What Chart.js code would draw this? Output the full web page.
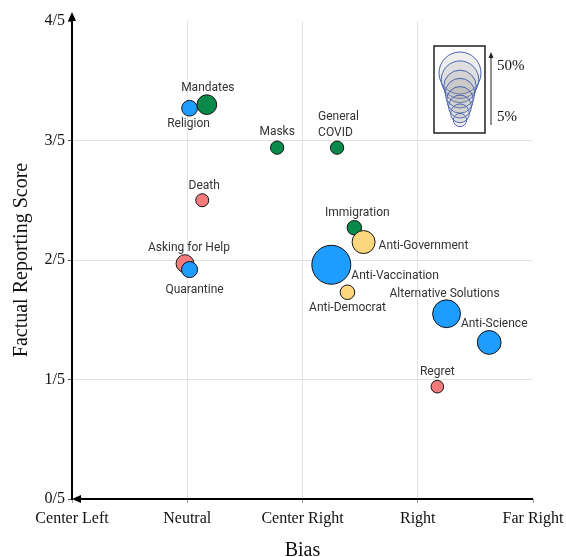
<!DOCTYPE html>
<html>
<head>
<meta charset="utf-8">
<script src="https://cdn.jsdelivr.net/npm/chart.js@4"></script>
<style>
  html, body { margin: 0; padding: 0; background: #fff; }
  #wrap { width: 566px; height: 557px; }
</style>
</head>
<body>
<div id="wrap"><canvas id="bias-chart"></canvas></div>
<script>
// categories on the bias axis, labels for the score axis
const biasLabels = ["Center Left", "Neutral", "Center Right", "Right", "Far Right"];
const scoreLabels = ["0/5", "1/5", "2/5", "3/5", "4/5"];

// one entry per topic
const topics = ["Religion", "Mandates", "Masks", "General COVID", "Death", "Immigration",
  "Anti-Government", "Anti-Vaccination", "Anti-Democrat", "Asking for Help", "Quarantine",
  "Alternative Solutions", "Anti-Science", "Regret"];
const biasValues = [1.02, 1.17, 1.78, 2.30, 1.13, 2.45, 2.53, 2.25, 2.39, 0.98, 1.02, 3.25, 3.62, 3.17];
const scoreValues = [3.27, 3.30, 2.94, 2.94, 2.50, 2.27, 2.15, 1.96, 1.73, 1.97, 1.92, 1.55, 1.31, 0.94];
const shareValues = [7, 11, 5, 5, 4.8, 6, 15, 43, 6, 9, 7.3, 22, 16, 4.5];
const topicGroups = ["belief", "policy", "policy", "policy", "personal", "policy",
  "political", "belief", "political", "personal", "belief", "belief", "belief", "personal"];

// bubble size legend (percent)
const legendShares = [50, 40, 30, 25, 20, 15, 10, 5];

const groupOrder = ["personal", "belief", "policy", "political"]; // later ones drawn on top
const groupColors = {
  personal: "#f47b7b",
  belief: "#1e9cff",
  policy: "#0a8a4a",
  political: "#fdd77e",
};

// 50% -> 21px radius, area proportional to share
const shareToRadius = (share) => 21 * Math.sqrt(share / 50);

const serif = "'Liberation Serif', 'Times New Roman', serif";
const sans = "Roboto, 'Noto Sans', sans-serif";

// where each label sits relative to its bubble
const labelPlacement = {
  "Religion": { dx: -1, dy: 16, align: "center" },
  "Mandates": { dx: 1, dy: -17, align: "center" },
  "Masks": { dx: 0, dy: -16, align: "center" },
  "General COVID": { dx: -19, dy: -31, align: "left", lines: ["General", "COVID"] },
  "Death": { dx: 2, dy: -14, align: "center" },
  "Immigration": { dx: 3, dy: -15, align: "center" },
  "Anti-Government": { dx: 15, dy: 4, align: "left" },
  "Anti-Vaccination": { dx: 20, dy: 11, align: "left" },
  "Anti-Democrat": { dx: 0, dy: 16, align: "center" },
  "Asking for Help": { dx: 4, dy: -16, align: "center" },
  "Quarantine": { dx: 5, dy: 20, align: "center" },
  "Alternative Solutions": { dx: -2, dy: -20, align: "center" },
  "Anti-Science": { dx: 5, dy: -18, align: "center" },
  "Regret": { dx: 0, dy: -15, align: "center" },
};

const datasets = groupOrder.map((group, gi) => {
  const points = [];
  topics.forEach((topic, i) => {
    if (topicGroups[i] === group) {
      points.push({ x: biasValues[i], y: scoreValues[i], r: shareToRadius(shareValues[i]), topic: topic });
    }
  });
  return {
    label: group,
    data: points,
    order: groupOrder.length - gi, // lower order is drawn last
    backgroundColor: groupColors[group],
    borderColor: "#111",
    borderWidth: 1,
    hoverRadius: 0,
  };
});

const pointLabels = {
  id: "pointLabels",
  afterDatasetsDraw(chart) {
    const ctx = chart.ctx;
    ctx.save();
    ctx.font = "12px " + sans;
    ctx.fillStyle = "#333";
    ctx.textBaseline = "middle";
    chart.data.datasets.forEach((ds, di) => {
      const meta = chart.getDatasetMeta(di);
      ds.data.forEach((pt, i) => {
        const el = meta.data[i];
        const p = labelPlacement[pt.topic];
        const lines = p.lines || [pt.topic];
        ctx.textAlign = p.align;
        lines.forEach((line, li) => {
          ctx.fillText(line, el.x + p.dx, el.y + p.dy + li * 16);
        });
      });
    });
    ctx.restore();
  },
};

const axisArrows = {
  id: "axisArrows",
  afterDraw(chart) {
    const ctx = chart.ctx;
    const a = chart.chartArea;
    ctx.save();
    ctx.strokeStyle = "#000";
    ctx.fillStyle = "#000";
    ctx.lineWidth = 2;
    // y axis with arrow on top
    ctx.beginPath();
    ctx.moveTo(a.left, a.bottom + 1);
    ctx.lineTo(a.left, a.top - 4);
    ctx.stroke();
    ctx.beginPath();
    ctx.moveTo(a.left, a.top - 9);
    ctx.lineTo(a.left - 4, a.top);
    ctx.lineTo(a.left + 4, a.top);
    ctx.closePath();
    ctx.fill();
    // x axis with arrow on the left
    ctx.beginPath();
    ctx.moveTo(a.left + 6, a.bottom);
    ctx.lineTo(a.right, a.bottom);
    ctx.stroke();
    ctx.beginPath();
    ctx.moveTo(a.left, a.bottom);
    ctx.lineTo(a.left + 9, a.bottom - 4);
    ctx.lineTo(a.left + 9, a.bottom + 4);
    ctx.closePath();
    ctx.fill();
    ctx.restore();
  },
};

const sizeLegend = {
  id: "sizeLegend",
  afterDraw(chart) {
    const ctx = chart.ctx;
    const a = chart.chartArea;
    const boxLeft = a.right - 99;
    const boxTop = a.top + 25;
    ctx.save();
    ctx.fillStyle = "#fff";
    ctx.fillRect(boxLeft, boxTop, 51, 87);
    const cx = boxLeft + 26;
    const n = legendShares.length;
    legendShares.forEach((share, i) => {
      const r = shareToRadius(share);
      const cy = boxTop + 27 + (i / (n - 1)) * 47;
      ctx.beginPath();
      ctx.arc(cx, cy, r, 0, Math.PI * 2);
      ctx.fillStyle = "rgba(150, 150, 150, 0.16)";
      ctx.fill();
      ctx.strokeStyle = "#4a64b0";
      ctx.lineWidth = 1;
      ctx.stroke();
    });
    ctx.strokeStyle = "#222";
    ctx.lineWidth = 1.5;
    ctx.strokeRect(boxLeft, boxTop, 51, 87);
    // arrow
    const ax = boxLeft + 57;
    ctx.lineWidth = 1;
    ctx.beginPath();
    ctx.moveTo(ax, boxTop + 79);
    ctx.lineTo(ax, boxTop + 10);
    ctx.stroke();
    ctx.beginPath();
    ctx.moveTo(ax, boxTop + 6);
    ctx.lineTo(ax - 2.5, boxTop + 12);
    ctx.lineTo(ax + 2.5, boxTop + 12);
    ctx.closePath();
    ctx.fillStyle = "#222";
    ctx.fill();
    ctx.font = "15px " + serif;
    ctx.fillStyle = "#111";
    ctx.textAlign = "left";
    ctx.textBaseline = "middle";
    ctx.fillText(legendShares[0] + "%", ax + 6, boxTop + 20);
    ctx.fillText(legendShares[n - 1] + "%", ax + 6, boxTop + 71);
    ctx.restore();
  },
};

const hideEnds = (max) => (c) => (c.tick.value === 0 || c.tick.value === max ? "rgba(0,0,0,0)" : "#e2e2e2");

new Chart(document.getElementById("bias-chart"), {
  type: "bubble",
  data: { datasets: datasets },
  options: {
    responsive: true,
    maintainAspectRatio: false,
    animation: false,
    layout: { padding: { top: 21, right: 33, left: 0, bottom: 0 } },
    plugins: {
      legend: { display: false },
      tooltip: { enabled: false },
    },
    scales: {
      x: {
        type: "linear",
        min: 0,
        max: 4,
        border: { display: false },
        grid: { color: hideEnds(4), tickColor: "#999", tickLength: 4, lineWidth: 1 },
        ticks: {
          stepSize: 1,
          padding: 6,
          color: "#111",
          font: { family: serif, size: 16 },
          maxRotation: 0,
          callback: (v) => biasLabels[v],
        },
        title: {
          display: true,
          text: "Bias",
          color: "#111",
          font: { family: serif, size: 20 },
          padding: { top: 2, bottom: -6 },
        },
        afterFit: (scale) => {
          scale.height = 58;
          scale.paddingLeft = 0;
          scale.paddingRight = 0; // let "Far Right" hang past the plot edge
        },
      },
      y: {
        type: "linear",
        min: 0,
        max: 4,
        border: { display: false },
        grid: { color: hideEnds(4), tickColor: "#555", tickLength: 4, lineWidth: 1 },
        ticks: {
          stepSize: 1,
          padding: 3,
          color: "#111",
          font: { family: serif, size: 16 },
          callback: (v) => scoreLabels[v],
        },
        title: {
          display: true,
          text: "Factual Reporting Score",
          color: "#111",
          font: { family: serif, size: 20 },
          padding: { top: 10, bottom: 0 },
        },
        afterFit: (scale) => { scale.width = 72; },
      },
    },
  },
  plugins: [pointLabels, axisArrows, sizeLegend],
});
</script>
</body>
</html>
